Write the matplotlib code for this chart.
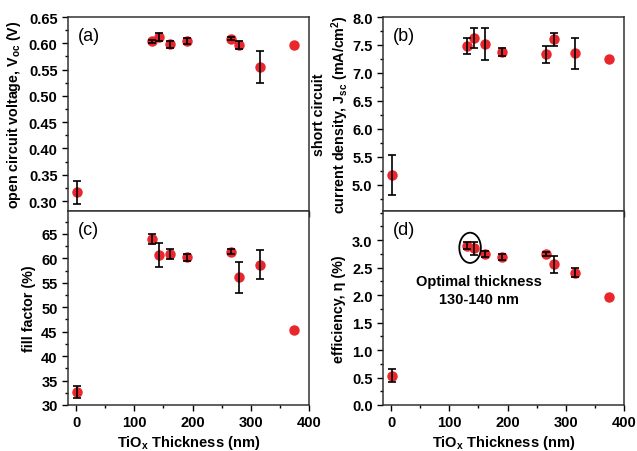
import matplotlib
matplotlib.use("Agg")
import matplotlib.pyplot as plt
from matplotlib.patches import Ellipse
from matplotlib.ticker import MultipleLocator, FixedLocator

plt.rcParams['font.family'] = ['Liberation Sans', 'DejaVu Sans']
plt.rcParams['font.weight'] = 'bold'
plt.rcParams['mathtext.fontset'] = 'custom'
plt.rcParams['mathtext.rm'] = 'Liberation Sans:bold'
plt.rcParams['mathtext.bf'] = 'Liberation Sans:bold'
plt.rcParams['mathtext.it'] = 'Liberation Sans:bold'
plt.rcParams['mathtext.default'] = 'bf'

thickness = [2, 130, 143, 162, 191, 266, 280, 316, 375]

voc = [0.317, 0.604, 0.612, 0.598, 0.604, 0.609, 0.597, 0.555, 0.596]
voc_err = [0.022, 0.003, 0.007, 0.007, 0.006, 0.003, 0.008, 0.030, 0.0]

jsc = [5.17, 7.48, 7.63, 7.52, 7.37, 7.33, 7.60, 7.35, 7.25]
jsc_err = [0.36, 0.14, 0.18, 0.29, 0.07, 0.15, 0.11, 0.28, 0.0]

ff = [32.6, 63.9, 60.7, 60.9, 60.2, 61.4, 56.1, 58.7, 45.3]
ff_err = [1.2, 1.05, 2.5, 0.96, 0.8, 0.5, 3.2, 3.0, 0.0]

eff = [0.53, 2.90, 2.85, 2.75, 2.69, 2.75, 2.56, 2.41, 1.96]
eff_err = [0.12, 0.065, 0.12, 0.05, 0.05, 0.03, 0.16, 0.08, 0.0]

panels = [
    ('(a)', voc, voc_err, r'open circuit voltage, V$_{oc}$ (V)', (0.281, 0.65),
     [0.30, 0.35, 0.40, 0.45, 0.50, 0.55, 0.60, 0.65], 0.025, '{:.2f}', 4),
    ('(b)', jsc, jsc_err, 'short circuit\n' + r'current density, J$_{sc}$ (mA/cm$^2$)', (4.53, 8.0),
     [5.0, 5.5, 6.0, 6.5, 7.0, 7.5, 8.0], 0.25, '{:.1f}', 1),
    ('(c)', ff, ff_err, 'fill factor (%)', (30, 69.7),
     [30, 35, 40, 45, 50, 55, 60, 65], 2.5, '{:.0f}', 4),
    ('(d)', eff, eff_err, 'efficiency, η (%)', (0, 3.53),
     [0.0, 0.5, 1.0, 1.5, 2.0, 2.5, 3.0], 0.25, '{:.1f}', 4),
]

fig = plt.figure(figsize=(6.37, 4.52), dpi=100)
W = 637.0
H = 452.0
lefts = [68 / W, 383 / W]
width = 241 / W
top_y = 18
mid_y = 212
bot_y = 406
rects = [
    (lefts[0], 1 - mid_y / H, width, (mid_y - top_y) / H),
    (lefts[1], 1 - mid_y / H, width, (mid_y - top_y) / H),
    (lefts[0], 1 - bot_y / H, width, (bot_y - mid_y) / H),
    (lefts[1], 1 - bot_y / H, width, (bot_y - mid_y) / H),
]

red = '#e8262b'
for i, (lab, vals, errs, ylabel, ylim, yticks, yminor, fmt, lpad) in enumerate(panels):
    ax = fig.add_axes(rects[i])
    ax.plot(thickness, vals, 'o', color=red, ms=6.5, mec=red, zorder=2)
    xe = [t for t, e in zip(thickness, errs) if e > 0]
    ve = [v for v, e in zip(vals, errs) if e > 0]
    ee = [e for e in errs if e > 0]
    ax.errorbar(xe, ve, yerr=ee, fmt='none', ecolor='black', elinewidth=1.2,
                capsize=3, capthick=1.2, zorder=3)
    ax.set_xlim(-14, 400)
    ax.set_ylim(*ylim)
    ax.xaxis.set_major_locator(FixedLocator([0, 100, 200, 300, 400]))
    ax.xaxis.set_minor_locator(MultipleLocator(50))
    ax.yaxis.set_major_locator(FixedLocator(yticks))
    ax.yaxis.set_minor_locator(MultipleLocator(yminor))
    ax.set_yticklabels([fmt.format(t) for t in yticks])
    ax.tick_params(axis='both', which='major', direction='out', length=4, width=1,
                   labelsize=10.5, right=False, top=False)
    ax.tick_params(axis='both', which='minor', direction='out', length=2.5, width=1,
                   right=False, top=False)
    for s in ax.spines.values():
        s.set_linewidth(1.1)
        s.set_color('#333333')
    for t in ax.get_yticklabels() + ax.get_xticklabels():
        t.set_fontweight('bold')
    ax.set_ylabel(ylabel, fontsize=10.3, fontweight='bold', labelpad=lpad)
    ax.text(0.04, 0.95, lab, transform=ax.transAxes, fontsize=13, fontweight='normal',
            ha='left', va='top')
    if i < 2:
        ax.tick_params(axis='x', labelbottom=False)
    else:
        ax.set_xticklabels(['0', '100', '200', '300', '400'])
        for t in ax.get_xticklabels():
            t.set_fontweight('bold')
        ax.set_xlabel(r'TiO$_x$ Thickness (nm)', fontsize=10.5, fontweight='bold', labelpad=2.5)
    if i == 3:
        ax.add_patch(Ellipse((135.6, 2.86), 37, 0.55, fill=False, ec='black', lw=1.3, zorder=4))
        ax.text(151, 2.09, 'Optimal thickness\n130-140 nm', ha='center', va='center',
                fontsize=10.5, fontweight='bold', linespacing=1.3)

fig.savefig('out.png', dpi=100)
